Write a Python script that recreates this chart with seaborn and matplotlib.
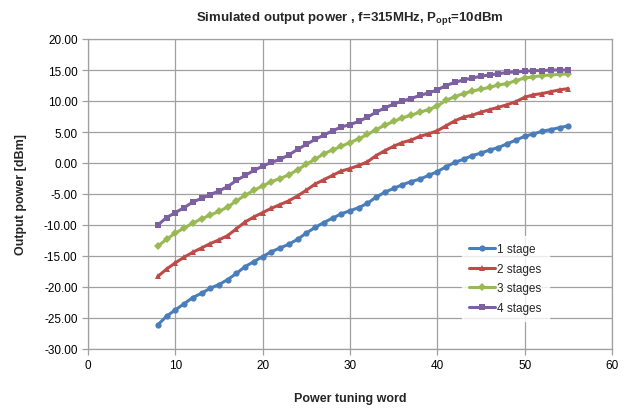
import numpy as np
import pandas as pd
import matplotlib
matplotlib.use("Agg")
import matplotlib.pyplot as plt
import seaborn as sns

x_word = list(range(8, 56))
stage1 = [-26.1, -24.7, -23.7, -22.7, -21.7, -21.0, -20.2, -19.6, -18.8, -17.8,
          -16.7, -15.9, -15.1, -14.3, -13.7, -13.1, -12.3, -11.3, -10.4, -9.6,
          -8.9, -8.2, -7.7, -7.2, -6.5, -5.5, -4.7, -4.1, -3.5, -3.0,
          -2.6, -2.0, -1.4, -0.6, 0.1, 0.6, 1.2, 1.6, 2.1, 2.5,
          3.1, 3.7, 4.3, 4.7, 5.1, 5.4, 5.7, 6.0]
stage2 = [-18.3, -17.1, -16.1, -15.2, -14.4, -13.7, -13.0, -12.4, -11.7, -10.6,
          -9.5, -8.7, -8.0, -7.3, -6.7, -6.1, -5.3, -4.4, -3.4, -2.7,
          -2.0, -1.3, -0.9, -0.4, 0.2, 1.2, 2.0, 2.7, 3.3, 3.7,
          4.3, 4.7, 5.2, 6.0, 6.8, 7.4, 7.7, 8.2, 8.6, 9.0,
          9.4, 9.9, 10.6, 11.0, 11.2, 11.5, 11.8, 12.0]
stage3 = [-13.4, -12.3, -11.3, -10.5, -9.7, -9.0, -8.4, -7.8, -7.1, -6.1,
          -5.2, -4.4, -3.7, -3.0, -2.5, -1.9, -1.1, -0.2, 0.6, 1.5,
          2.1, 2.7, 3.3, 3.9, 4.6, 5.4, 6.1, 6.7, 7.3, 7.7,
          8.2, 8.6, 9.2, 10.1, 10.7, 11.2, 11.6, 11.9, 12.2, 12.6,
          12.8, 13.3, 13.7, 13.9, 14.1, 14.2, 14.3, 14.4]
stage4 = [-10.0, -8.8, -8.0, -7.2, -6.3, -5.7, -5.1, -4.5, -3.8, -2.8,
          -2.0, -1.2, -0.5, 0.1, 0.6, 1.3, 2.2, 3.0, 3.8, 4.5,
          5.2, 5.8, 6.2, 6.7, 7.4, 8.2, 8.9, 9.5, 10.0, 10.4,
          10.9, 11.3, 11.8, 12.5, 13.0, 13.4, 13.7, 14.0, 14.2, 14.4,
          14.6, 14.7, 14.8, 14.9, 14.9, 15.0, 15.0, 15.0]
series_names = ["1 stage", "2 stages", "3 stages", "4 stages"]
x_ticks = [0, 10, 20, 30, 40, 50, 60]
y_ticks = [-30, -25, -20, -15, -10, -5, 0, 5, 10, 15, 20]

frames = []
for name, vals in zip(series_names, [stage1, stage2, stage3, stage4]):
    frames.append(pd.DataFrame({"x": x_word, "y": vals, "series": name}))
df = pd.concat(frames, ignore_index=True)

sns.set_style("white")
plt.rcParams["font.family"] = ["Liberation Sans", "DejaVu Sans"]

palette = {"1 stage": "#4A7EBB", "2 stages": "#BE4B48",
           "3 stages": "#98B954", "4 stages": "#7D60A0"}
markers = {"1 stage": "o", "2 stages": "^", "3 stages": "D", "4 stages": "s"}
msize = {"1 stage": 4.5, "2 stages": 4.5, "3 stages": 3.8, "4 stages": 4.5}

fig = plt.figure(figsize=(6.27, 4.10), dpi=100)
ax = fig.add_axes([88/627, 1-350/410, (612-88)/627, (350-40)/410])

for name in series_names:
    sub = df[df["series"] == name]
    sns.lineplot(data=sub, x="x", y="y", ax=ax, color=palette[name],
                 marker=markers[name], markersize=msize[name],
                 markeredgewidth=0, linewidth=2.2, label=name)

ax.set_xlim(0, 60)
ax.set_ylim(-30, 20)
ax.set_xticks(x_ticks)
ax.set_yticks(y_ticks)
ax.set_yticklabels([f"{v:.2f}" for v in y_ticks])
ax.grid(True, color="#A0A0A0", linewidth=0.9)
for s in ax.spines.values():
    s.set_color("#A0A0A0")
    s.set_linewidth(0.9)
ax.tick_params(axis="both", labelsize=8.5, colors="black", direction="out",
               length=4, width=0.9, color="#A0A0A0", bottom=True, left=True)
ax.set_xlabel("Power tuning word", fontsize=9, fontweight="bold", labelpad=15)
ax.set_ylabel("Output power [dBm]", fontsize=9, fontweight="bold", labelpad=12)
ax.set_title(r"Simulated output power , f=315MHz, P$_{\mathregular{opt}}$=10dBm",
             fontsize=9.5, fontweight="bold", pad=14)

leg = ax.legend(loc="upper left", bbox_to_anchor=((456-88)/524, (350-231)/310),
                frameon=True, fontsize=8.5, handlelength=2.2, handletextpad=0.2,
                labelspacing=0.65, borderpad=0.6, fancybox=False)
leg.get_frame().set_facecolor("white")
leg.get_frame().set_edgecolor("white")

fig.savefig("out.png", dpi=100)
